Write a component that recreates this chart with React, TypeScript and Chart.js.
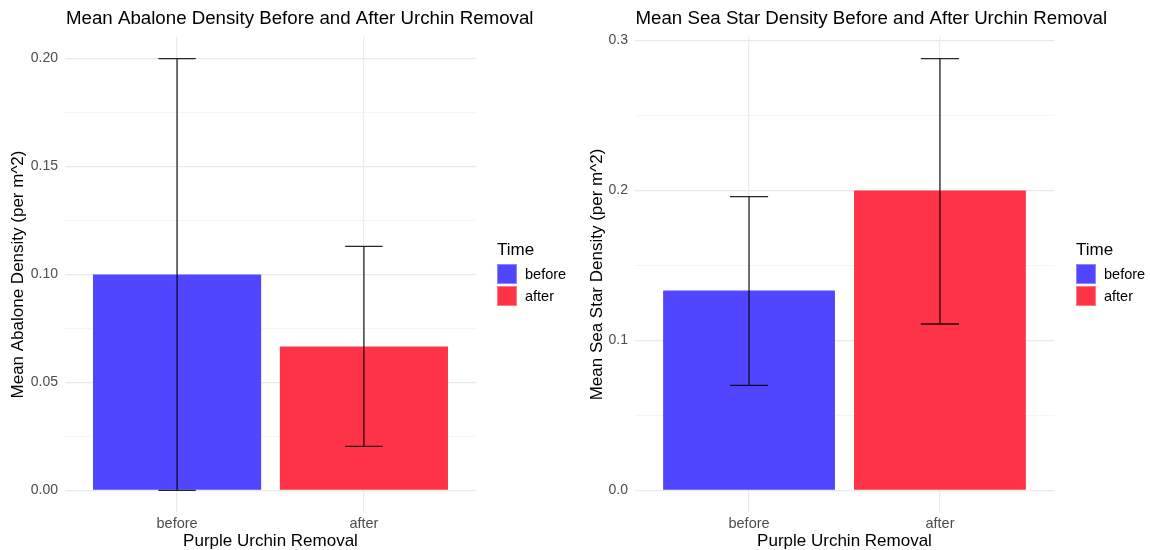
import React, { useEffect, useRef } from 'react';
import { Chart, registerables } from 'chart.js';

Chart.register(...registerables);

const categories = ['before', 'after'];

const abaloneMeans = [0.1, 0.0667];
const abaloneLower = [0.0, 0.0204];
const abaloneUpper = [0.2, 0.113];
const abaloneMajorTicks = [0, 0.05, 0.1, 0.15, 0.2];
const abaloneMinorTicks = [0.025, 0.075, 0.125, 0.175];

const seaStarMeans = [0.1333, 0.2];
const seaStarLower = [0.07, 0.111];
const seaStarUpper = [0.196, 0.288];
const seaStarMajorTicks = [0, 0.1, 0.2, 0.3];
const seaStarMinorTicks = [0.05, 0.15, 0.25];

const barColors = ['#5046ff', '#ff3347'];
const legendTitle = 'Time';

const FONT = '"Liberation Sans", Arial, Helvetica, sans-serif';

type PanelProps = {
  title: string;
  yTitle: string;
  xTitle: string;
  means: number[];
  lower: number[];
  upper: number[];
  major: number[];
  minor: number[];
  decimals: number;
  yAxisWidth: number;
  yTitlePad: number;
  yTickPad: number;
  rightPad: number;
  left: number;
  legendLeft: number;
};

function Panel(p: PanelProps) {
  const ref = useRef<HTMLCanvasElement | null>(null);

  useEffect(() => {
    if (!ref.current) return;
    const lo = Math.min(0, ...p.lower, ...p.means);
    const hi = Math.max(...p.upper, ...p.means);
    const pad = (hi - lo) * 0.05;
    const isMajor = (v: number) => p.major.some((m) => Math.abs(m - v) < 1e-9);

    const errorBars = {
      id: 'errorBars',
      afterDatasetsDraw(chart: any) {
        const xs = chart.scales.x;
        const ys = chart.scales.y;
        const ctx = chart.ctx;
        ctx.save();
        ctx.strokeStyle = 'rgba(0,0,0,0.85)';
        ctx.lineWidth = 1.3;
        p.means.forEach((_, i) => {
          const x = xs.getPixelForValue(i + 1);
          const hw = xs.getPixelForValue(i + 1.1) - x;
          const yl = ys.getPixelForValue(p.lower[i]);
          const yh = ys.getPixelForValue(p.upper[i]);
          ctx.beginPath();
          ctx.moveTo(x, yl);
          ctx.lineTo(x, yh);
          ctx.moveTo(x - hw, yl);
          ctx.lineTo(x + hw, yl);
          ctx.moveTo(x - hw, yh);
          ctx.lineTo(x + hw, yh);
          ctx.stroke();
        });
        ctx.restore();
      },
    };

    const plotTitle = {
      id: 'plotTitle',
      afterDraw(chart: any) {
        const ctx = chart.ctx;
        ctx.save();
        ctx.fillStyle = '#000';
        ctx.font = `18.7px ${FONT}`;
        ctx.textAlign = 'left';
        ctx.textBaseline = 'middle';
        ctx.fillText(p.title, chart.chartArea.left + 1, 19);
        ctx.restore();
      },
    };

    const chart = new Chart(ref.current, {
      type: 'bar',
      data: {
        datasets: [
          {
            data: categories.map((c, i) => ({ x: i + 1, y: p.means[i] })),
            backgroundColor: barColors,
            borderWidth: 0,
            barPercentage: 0.9,
            categoryPercentage: 1,
          },
        ],
      },
      plugins: [errorBars, plotTitle],
      options: {
        animation: false,
        responsive: false,
        layout: { padding: { left: 0, right: p.rightPad, top: 37, bottom: 0 } },
        plugins: {
          legend: { display: false },
          tooltip: { enabled: false },
          title: { display: false },
        },
        scales: {
          x: {
            type: 'linear',
            offset: false,
            min: 0.4,
            max: 2.6,
            afterBuildTicks: (scale: any) => {
              scale.ticks = categories.map((c, i) => ({ value: i + 1 }));
            },
            afterFit: (scale: any) => {
              scale.height = 38;
            },
            ticks: {
              autoSkip: false,
              maxRotation: 0,
              padding: 3,
              color: '#4d4d4d',
              font: { family: FONT, size: 14.5 },
              callback: (v: any) => categories[Math.round(Number(v)) - 1] ?? '',
            },
            grid: { offset: false, color: '#ebebeb', lineWidth: 1.2, drawTicks: false },
            border: { display: false },
            title: {
              display: true,
              text: p.xTitle,
              color: '#000',
              font: { family: FONT, size: 17, lineHeight: 1.0 },
              padding: { top: 0, bottom: 0 },
            },
          },
          y: {
            type: 'linear',
            min: lo - pad,
            max: hi + pad,
            afterBuildTicks: (scale: any) => {
              scale.ticks = [...p.major, ...p.minor]
                .sort((a, b) => a - b)
                .map((v) => ({ value: v }));
            },
            afterFit: (scale: any) => {
              scale.width = p.yAxisWidth;
            },
            ticks: {
              autoSkip: false,
              padding: p.yTickPad,
              color: '#4d4d4d',
              font: { family: FONT, size: 14 },
              callback: (v: any) => (isMajor(Number(v)) ? Number(v).toFixed(p.decimals) : ''),
            },
            grid: {
              drawTicks: false,
              color: (ctx: any) => (isMajor(ctx.tick.value) ? '#e9e9e9' : '#f3f3f3'),
              lineWidth: (ctx: any) => (isMajor(ctx.tick.value) ? 1.2 : 0.8),
            },
            border: { display: false },
            title: {
              display: true,
              text: p.yTitle,
              color: '#000',
              font: { family: FONT, size: 17 },
              padding: { top: p.yTitlePad, bottom: 0 },
            },
          },
        },
      } as any,
    });
    return () => chart.destroy();
  }, []);

  return (
    <div style={{ position: 'absolute', left: p.left, top: 0, width: 575, height: 550 }}>
      <canvas ref={ref} width={575} height={550} style={{ display: 'block' }} />
      <div style={{ position: 'absolute', left: p.legendLeft, top: 239, fontFamily: FONT, color: '#000' }}>
        <div style={{ fontSize: 17, height: 24, lineHeight: '22px' }}>{legendTitle}</div>
        {categories.map((c, i) => (
          <div key={c} style={{ display: 'flex', alignItems: 'center', height: 22 }}>
            <div style={{ width: 20, height: 20, background: barColors[i], boxSizing: 'border-box', border: '1px solid rgba(255,255,255,0.35)' }} />
            <div style={{ marginLeft: 8, fontSize: 14.5, color: '#000' }}>{c}</div>
          </div>
        ))}
      </div>
    </div>
  );
}

export default function App() {
  return (
    <div style={{ position: 'absolute', left: 0, top: 0, width: 1150, height: 550, background: '#fff' }}>
      <Panel
        title="Mean Abalone Density Before and After Urchin Removal"
        yTitle="Mean Abalone Density (per m^2)"
        xTitle="Purple Urchin Removal"
        means={abaloneMeans}
        lower={abaloneLower}
        upper={abaloneUpper}
        major={abaloneMajorTicks}
        minor={abaloneMinorTicks}
        decimals={2}
        yAxisWidth={65}
        yTitlePad={7.8}
        yTickPad={7}
        rightPad={99}
        left={0}
        legendLeft={497}
      />
      <Panel
        title="Mean Sea Star Density Before and After Urchin Removal"
        yTitle="Mean Sea Star Density (per m^2)"
        xTitle="Purple Urchin Removal"
        means={seaStarMeans}
        lower={seaStarLower}
        upper={seaStarUpper}
        major={seaStarMajorTicks}
        minor={seaStarMinorTicks}
        decimals={1}
        yAxisWidth={59.5}
        yTitlePad={11.8}
        yTickPad={6.5}
        rightPad={95.5}
        left={575}
        legendLeft={501}
      />
    </div>
  );
}
